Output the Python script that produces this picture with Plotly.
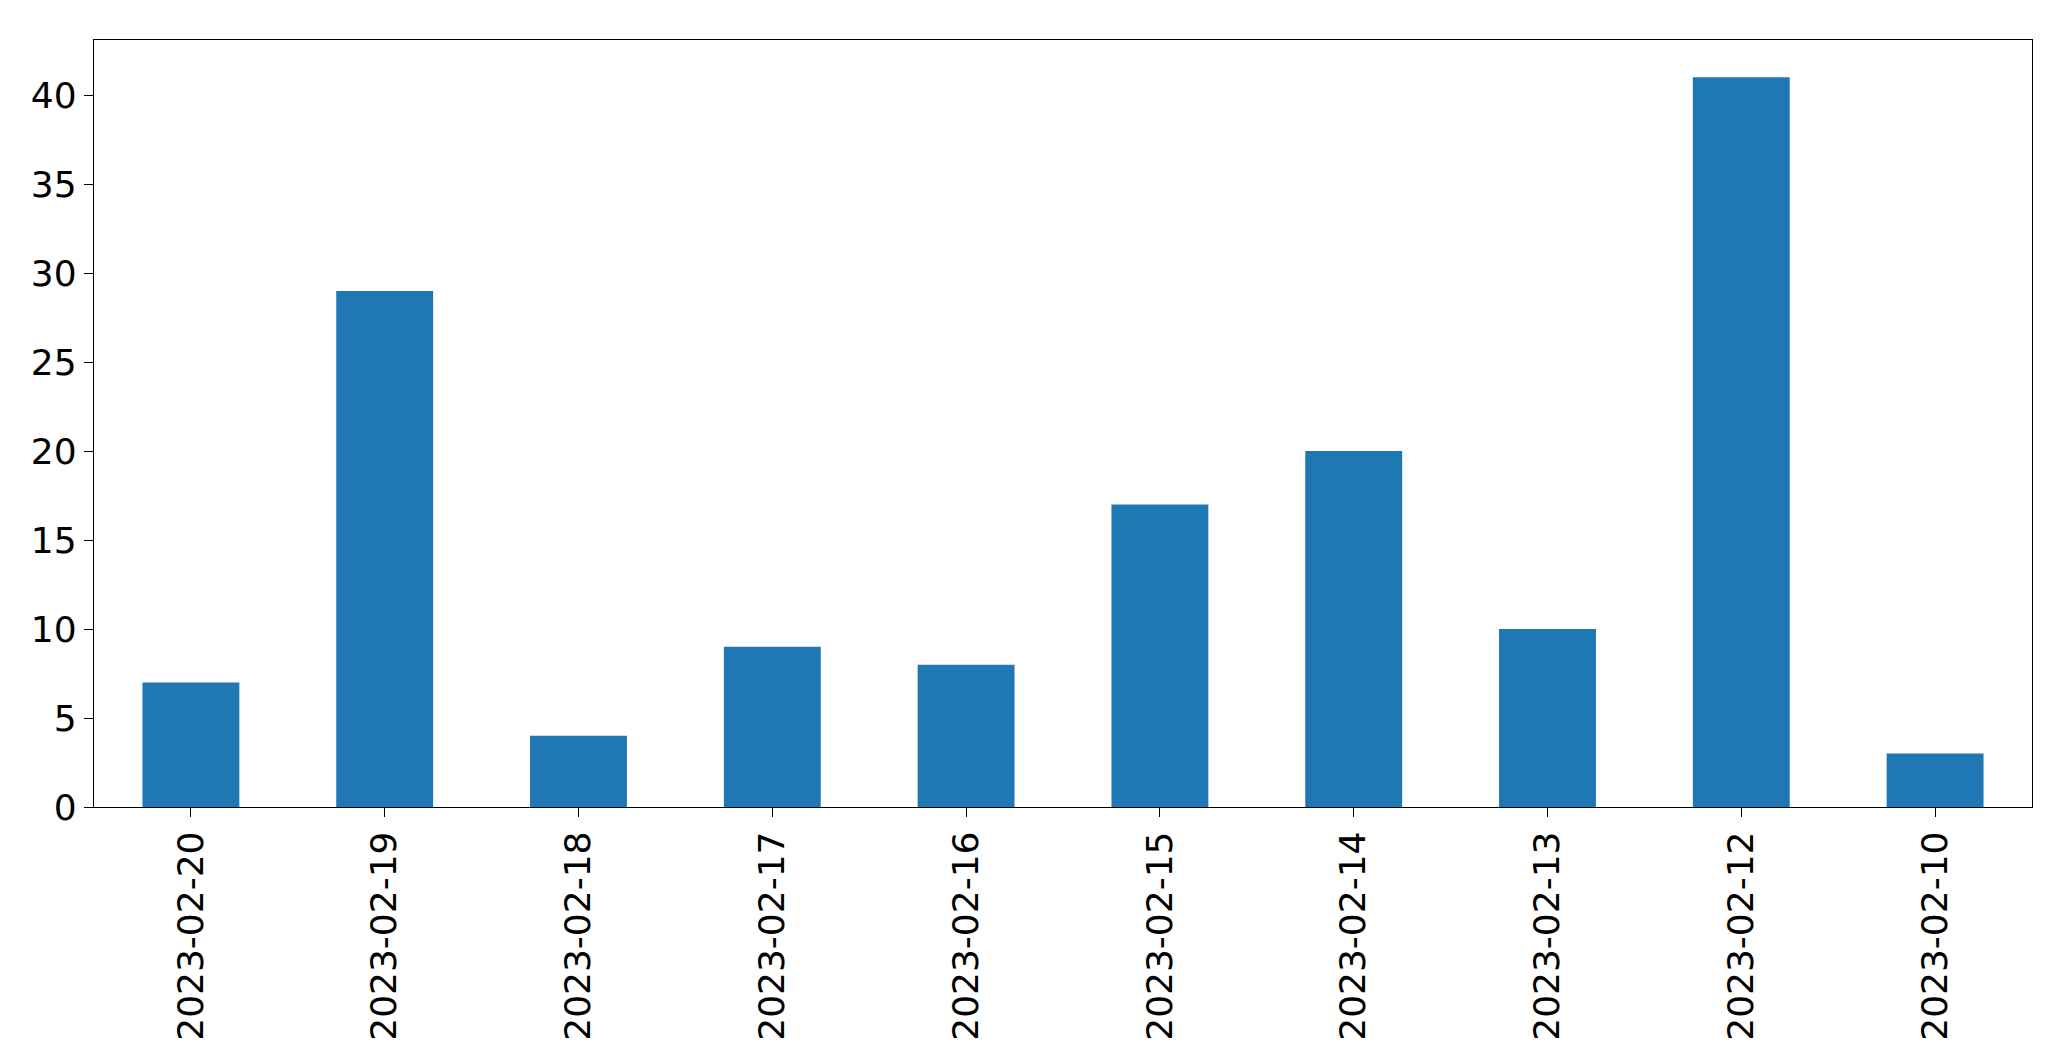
import plotly.graph_objects as go

dates = ["2023-02-20","2023-02-19","2023-02-18","2023-02-17","2023-02-16",
         "2023-02-15","2023-02-14","2023-02-13","2023-02-12","2023-02-10"]
counts = [7, 29, 4, 9, 8, 17, 20, 10, 41, 3]

fig = go.Figure(go.Bar(x=dates, y=counts, width=0.5, marker_color="#1f77b4", marker_line_width=0))
fig.update_layout(
    width=2071, height=1061, paper_bgcolor="white", plot_bgcolor="white",
    margin=dict(l=86, r=47, t=32, b=262), showlegend=False,
    font=dict(family="DejaVu Sans", size=36, color="black"),
)
fig.update_xaxes(type="category", range=[-0.5, 9.5], tickangle=-90, showline=True, mirror=True,
                 linecolor="black", linewidth=1.3, ticks="outside", ticklen=9, tickcolor="black",
                 showgrid=False)
fig.update_yaxes(range=[0, 43.1], tickvals=[0,5,10,15,20,25,30,35,40], showline=True, mirror=True,
                 linecolor="black", linewidth=1.3, ticks="outside", ticklen=9, tickcolor="black",
                 showgrid=False, zeroline=False)
fig.write_html("out.html")
